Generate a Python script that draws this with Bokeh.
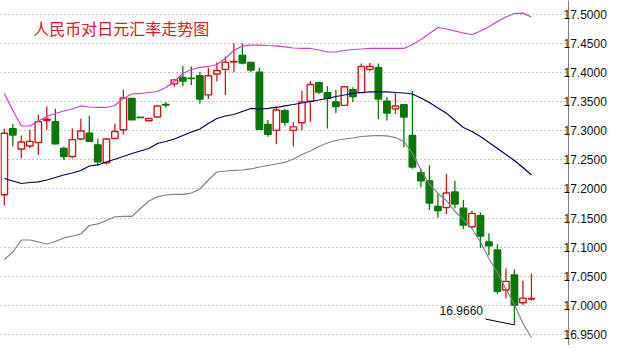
from bokeh.plotting import figure
from bokeh.models import Range1d, FixedTicker, NumeralTickFormatter, Label
from bokeh.embed import file_html
from bokeh.resources import INLINE

title_text = "人民币对日元汇率走势图"

opens = [17.190, 17.304, 17.269, 17.274, 17.280, 17.318, 17.316, 17.270, 17.256, 17.286,
         17.296, 17.276, 17.245, 17.287, 17.302, 17.356, 17.3235, 17.3175, 17.324, 17.3455,
         17.381, 17.392, 17.391, 17.395, 17.362, 17.398, 17.406, 17.4188, 17.430, 17.418,
         17.401, 17.311, 17.301, 17.335, 17.301, 17.314, 17.351, 17.383, 17.366, 17.350,
         17.344, 17.371, 17.366, 17.406, 17.409, 17.351, 17.338, 17.345, 17.292, 17.228,
         17.214, 17.170, 17.168, 17.195, 17.167, 17.135, 17.154, 17.109, 17.095, 17.026,
         17.052, 17.004, 17.0105]
highs = [17.304, 17.312, 17.292, 17.302, 17.328, 17.342, 17.338, 17.273, 17.304, 17.321,
         17.326, 17.287, 17.288, 17.313, 17.371, 17.356, 17.3235, 17.3214, 17.344, 17.350,
         17.389, 17.412, 17.411, 17.402, 17.409, 17.418, 17.428, 17.451, 17.451, 17.418,
         17.409, 17.319, 17.342, 17.338, 17.316, 17.369, 17.386, 17.385, 17.377, 17.371,
         17.376, 17.375, 17.416, 17.417, 17.416, 17.358, 17.365, 17.345, 17.369, 17.235,
         17.241, 17.192, 17.226, 17.214, 17.181, 17.162, 17.160, 17.124, 17.105, 17.063,
         17.062, 17.042, 17.0545]
lows = [17.172, 17.273, 17.253, 17.270, 17.259, 17.302, 17.277, 17.250, 17.253, 17.284,
        17.282, 17.240, 17.242, 17.286, 17.294, 17.319, 17.323, 17.3175, 17.323, 17.340,
        17.376, 17.377, 17.379, 17.347, 17.355, 17.385, 17.362, 17.401, 17.415, 17.401,
        17.303, 17.290, 17.277, 17.309, 17.273, 17.301, 17.316, 17.363, 17.304, 17.331,
        17.344, 17.350, 17.366, 17.403, 17.320, 17.318, 17.329, 17.272, 17.235, 17.203,
        17.164, 17.151, 17.157, 17.167, 17.131, 17.132, 17.098, 17.086, 17.019, 17.012,
        16.966, 17.000, 17.0075]
closes = [17.296, 17.293, 17.281, 17.282, 17.316, 17.320, 17.278, 17.256, 17.285, 17.300,
          17.282, 17.247, 17.286, 17.299, 17.357, 17.319, 17.323, 17.3214, 17.343, 17.3445,
          17.388, 17.386, 17.390, 17.355, 17.395, 17.404, 17.418, 17.4195, 17.417, 17.405,
          17.303, 17.294, 17.336, 17.315, 17.307, 17.350, 17.380, 17.367, 17.356, 17.342,
          17.376, 17.359, 17.411, 17.411, 17.355, 17.331, 17.343, 17.324, 17.238, 17.214,
          17.176, 17.163, 17.193, 17.174, 17.138, 17.158, 17.119, 17.102, 17.024, 17.041,
          17.000, 17.012, 17.0115]

upper_band = [17.3645, 17.3352, 17.3085, 17.3085, 17.3171, 17.3249, 17.3300, 17.3343, 17.3378, 17.3430,
              17.3412, 17.3404, 17.3404, 17.3438, 17.3559, 17.3636, 17.3645, 17.3662, 17.3679, 17.3748,
              17.3851, 17.3989, 17.4058, 17.4093, 17.4110, 17.4144, 17.4247, 17.4385, 17.4463, 17.4477,
              17.4477, 17.4471, 17.4466, 17.4446, 17.4428, 17.4423, 17.4420, 17.4394, 17.4359, 17.4359,
              17.4385, 17.4402, 17.4411, 17.4420, 17.4420, 17.4420, 17.4420, 17.4420, 17.4489, 17.4575,
              17.4678, 17.4781, 17.4755, 17.4721, 17.4687, 17.4656, 17.4721, 17.4793, 17.4885, 17.4962,
              17.5022, 17.5028, 17.4962]
middle_band = [17.2181, 17.2138, 17.2095, 17.2112, 17.2124, 17.2155, 17.2198, 17.2241, 17.2276, 17.2319,
               17.2396, 17.2414, 17.2465, 17.2513, 17.2560, 17.2612, 17.2655, 17.2698, 17.2784, 17.2818,
               17.2861, 17.2922, 17.2982, 17.3034, 17.3128, 17.3214, 17.3257, 17.3283, 17.3335, 17.3387,
               17.3378, 17.3387, 17.3404, 17.3430, 17.3455, 17.3481, 17.3507, 17.3533, 17.3559, 17.3593,
               17.3619, 17.3645, 17.3662, 17.3671, 17.3674, 17.3671, 17.3662, 17.3653, 17.3636, 17.3567,
               17.3490, 17.3395, 17.3306, 17.3180, 17.3059, 17.2990, 17.2904, 17.2801, 17.2698, 17.2594,
               17.2491, 17.2371, 17.2241]
lower_band = [17.0786, 17.0915, 17.1122, 17.1122, 17.1088, 17.1053, 17.1096, 17.1157, 17.1191, 17.1225,
              17.1372, 17.1398, 17.1458, 17.1522, 17.1527, 17.1527, 17.1664, 17.1794, 17.1863, 17.1897,
              17.1906, 17.1906, 17.1931, 17.2000, 17.2155, 17.2293, 17.2310, 17.2319, 17.2327, 17.2345,
              17.2379, 17.2405, 17.2431, 17.2457, 17.2517, 17.2594, 17.2655, 17.2732, 17.2792, 17.2835,
              17.2861, 17.2878, 17.2904, 17.2916, 17.2921, 17.2916, 17.2887, 17.2818, 17.2612, 17.2327,
              17.2086, 17.1923, 17.1802, 17.1613, 17.1475, 17.1320, 17.1088, 17.0804, 17.0554, 17.0278,
              17.0011, 16.9684, 16.9443]

y_ticks = [16.95, 17.00, 17.05, 17.10, 17.15, 17.20, 17.25, 17.30, 17.35, 17.40, 17.45, 17.50]
low_label = "16.9660"
low_value = 16.966
low_index = 60

RED = "#d01818"
GREEN = "#087808"

idx = list(range(len(opens)))
is_up = [c > o for o, c in zip(opens, closes)]
colors = [RED if u else GREEN for u in is_up]
fills = ["white" if u else GREEN for u in is_up]
tops = [max(o, c) for o, c in zip(opens, closes)]
bottoms = [min(o, c) for o, c in zip(opens, closes)]

p = figure(width=609, height=345, x_range=Range1d(-0.45, 66.36),
           y_range=Range1d(16.9305, 17.5246), x_axis_location=None,
           y_axis_location="right", toolbar_location=None, output_backend="svg",
           min_border_left=0, min_border_top=0, min_border_bottom=0, min_border_right=0)
p.outline_line_color = None
p.background_fill_color = "white"
p.border_fill_color = "white"
p.xgrid.visible = False
p.ygrid.grid_line_color = "#8a8a8a"
p.ygrid.grid_line_dash = "1 3"
p.ygrid.grid_line_width = 1

ax = p.yaxis[0]
ax.ticker = FixedTicker(ticks=y_ticks)
ax.formatter = NumeralTickFormatter(format="0.0000")
ax.major_tick_in = 0
ax.major_tick_out = 0
ax.minor_tick_in = 0
ax.minor_tick_out = 0
ax.axis_line_color = "#808080"
ax.axis_line_width = 1
ax.major_label_standoff = -5
ax.major_label_text_font = "Liberation Sans"
ax.major_label_text_font_size = "12px"
ax.major_label_text_color = "#111111"

# wicks
p.segment(x0=idx, y0=lows, x1=idx, y1=highs, line_color=colors, line_width=1.3)
# bodies
p.vbar(x=idx, top=tops, bottom=bottoms, width=0.76, fill_color=fills,
       line_color=colors, line_width=1.4)

# bands
p.line(idx, upper_band, line_color="#cc3fcc", line_width=1.2)
p.line(idx, middle_band, line_color="#000060", line_width=1.2)
p.line(idx, lower_band, line_color="#808080", line_width=1.2)

# low annotation
p.segment(x0=[56.6], y0=[16.976], x1=[low_index], y1=[low_value], line_color="black", line_width=1)
p.add_layout(Label(x=51.2, y=16.9908, text=low_label, text_font="Liberation Sans",
                   text_font_size="12px", text_color="#111111",
                   text_baseline="middle", text_align="left"))

p.add_layout(Label(x=3.4, y=17.4764, text=title_text, text_font="Noto Sans CJK SC",
                   text_font_size="16px", text_color="#d42020",
                   text_baseline="middle", text_align="left"))

open("out.html", "w").write(file_html(p, INLINE))
